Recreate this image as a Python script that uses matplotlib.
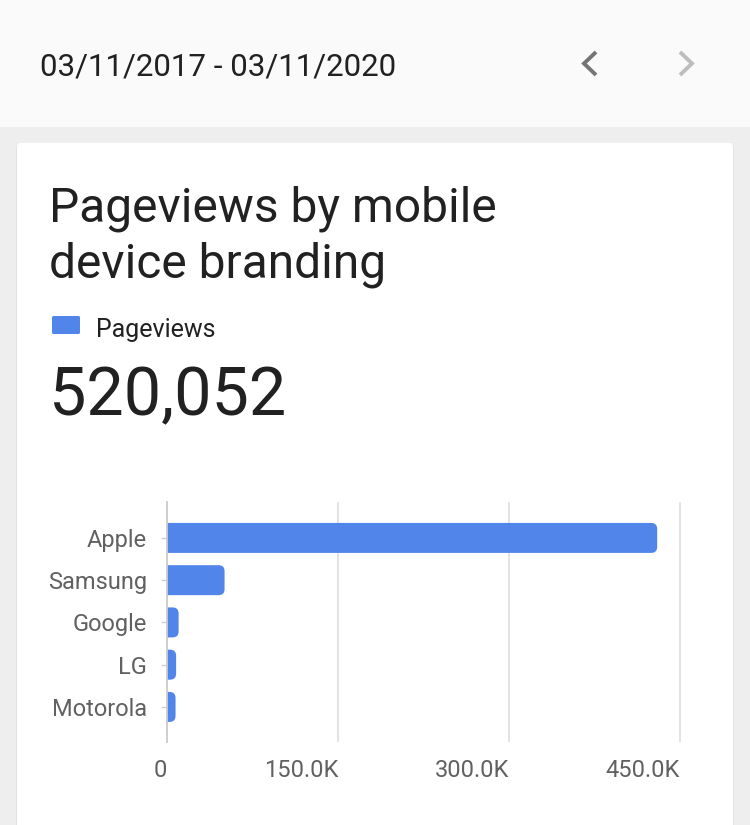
import matplotlib.pyplot as plt
from matplotlib.patches import Rectangle, FancyBboxPatch
from matplotlib.lines import Line2D
from matplotlib.ticker import FuncFormatter

plt.rcParams['font.family'] = ['Roboto', 'DejaVu Sans']

# data
brands = ["Apple", "Samsung", "Google", "LG", "Motorola"]
pageviews = [430000, 50500, 10200, 8000, 7500]
x_ticks = [0, 150000, 300000, 450000]
total_label = "520,052"
date_range = "03/11/2017 - 03/11/2020"

W, H = 750, 825
BLUE = "#5285ea"
DARK = "#212121"
GREY = "#616161"

fig = plt.figure(figsize=(W / 100, H / 100), dpi=100, facecolor="#eeeeee")


def fx(x):
    return x / W


def fy(y):
    return 1 - y / H


# header band and card
fig.patches.append(Rectangle((0, fy(127)), 1, 127 / H, transform=fig.transFigure,
                             facecolor="#fafafa", edgecolor="none", zorder=-2))
fig.patches.append(FancyBboxPatch((fx(16), fy(830)), fx(718), (830 - 144) / H,
                                  boxstyle="round,pad=0,rounding_size=0.005",
                                  transform=fig.transFigure, facecolor="#e2e2e2",
                                  edgecolor="none", zorder=-2))
fig.patches.append(FancyBboxPatch((fx(17), fy(830)), fx(716), (830 - 143) / H,
                                  boxstyle="round,pad=0,rounding_size=0.005",
                                  transform=fig.transFigure, facecolor="white",
                                  edgecolor="none", zorder=-1))

# header text and chevrons
fig.text(fx(40), fy(75), date_range, fontsize=22.5, color=DARK, va="baseline")
for xs, col in [([596, 584, 596], "#757575"), ([680, 692, 680], "#bdbdbd")]:
    fig.lines.append(Line2D([fx(v) for v in xs], [fy(52), fy(63.5), fy(75)],
                            transform=fig.transFigure, color=col, lw=2.8,
                            solid_capstyle="butt", solid_joinstyle="miter"))

# title, legend, big number
fig.text(fx(49), fy(222), "Pageviews by mobile", fontsize=34.5, color=DARK, va="baseline")
fig.text(fx(49), fy(278), "device branding", fontsize=34.5, color=DARK, va="baseline")
fig.patches.append(FancyBboxPatch((fx(52), fy(334)), fx(28), 18 / H,
                                  boxstyle="round,pad=0,rounding_size=0.002",
                                  transform=fig.transFigure, facecolor=BLUE,
                                  edgecolor="none"))
fig.text(fx(96), fy(337), "Pageviews", fontsize=18, color=DARK, va="baseline")
fig.text(fx(49), fy(415), total_label, fontsize=48, color=DARK, va="baseline")

# bar chart
ax_left, ax_right, ax_top, ax_bot = 167, 690, 502, 742
ax = fig.add_axes([fx(ax_left), fy(ax_bot), (ax_right - ax_left) / W, (ax_bot - ax_top) / H],
                  zorder=2)
ax.set_facecolor("none")
xmax = 450000 * (ax_right - ax_left) / (680 - ax_left)
ax.set_xlim(0, xmax)
ax.set_ylim(4.83, -0.85)

px_per_x = (ax_right - ax_left) / xmax
px_per_y = (ax_bot - ax_top) / (4.83 + 0.85)
bar_h = 30 / px_per_y
for i, v in enumerate(pageviews):
    w_px = v * px_per_x
    r_px = min(6, w_px / 2 + 3)
    r = r_px / px_per_x
    patch = FancyBboxPatch((-r, i - bar_h / 2), v + r, bar_h,
                           boxstyle=f"round,pad=0,rounding_size={r}",
                           mutation_aspect=px_per_x / px_per_y,
                           facecolor=BLUE, edgecolor="none", zorder=3)
    ax.add_patch(patch)

ax.set_yticks(range(len(brands)))
ax.set_yticklabels(brands)
ax.set_xticks(x_ticks)
ax.xaxis.set_major_formatter(FuncFormatter(lambda v, p: "0" if v == 0 else f"{v / 1000:.1f}K"))
for lbl in ax.get_xticklabels():
    lbl.set_horizontalalignment("right")

ax.grid(axis="x", color="#e0e0e0", lw=1.3, zorder=0)
ax.set_axisbelow(True)
for s in ["top", "right", "bottom"]:
    ax.spines[s].set_visible(False)
ax.spines["left"].set_color("#cccccc")
ax.spines["left"].set_linewidth(1.3)
ax.spines["left"].set_zorder(4)
ax.tick_params(axis="y", length=4.3, width=1, color="#cccccc", pad=10,
               labelsize=17, labelcolor=GREY)
ax.tick_params(axis="x", length=0, pad=12, labelsize=17, labelcolor=GREY)

fig.savefig("out.png", dpi=100, facecolor=fig.get_facecolor())
